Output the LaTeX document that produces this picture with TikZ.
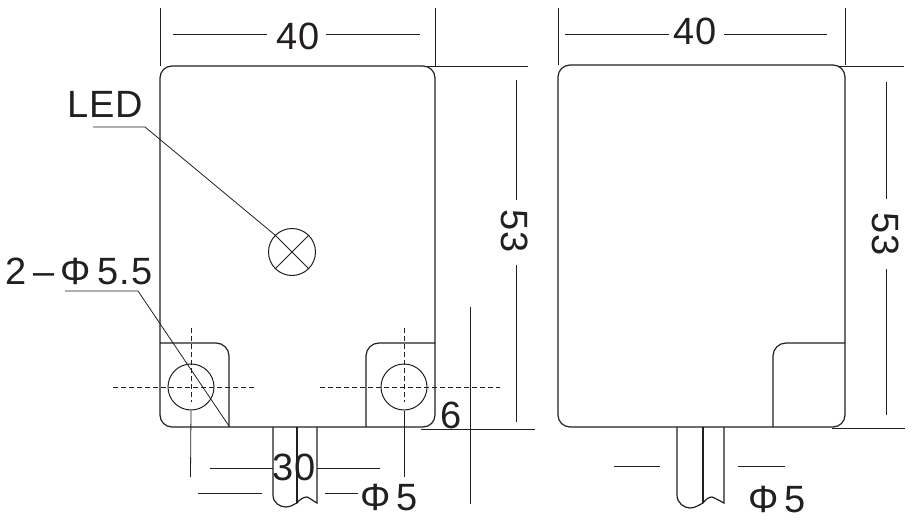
\documentclass[tikz,border=0pt]{standalone}
\usepackage{fontspec}
\setmainfont{Liberation Sans}[LetterSpace=2.5]
\usetikzlibrary{positioning}
\definecolor{inkblack}{RGB}{35,31,32}
\tikzset{
  outline/.style={draw=inkblack, line width=1.2pt},
  thinline/.style={draw=inkblack, line width=0.8pt},
  centerline/.style={draw=inkblack, line width=0.7pt, dash pattern=on 5pt off 3pt},
  dimtext/.style={inner sep=0pt, text=inkblack, font=\fontsize{38}{38}\selectfont},
  holemark/.style={circle, draw=inkblack, line width=1pt, minimum size=46pt, inner sep=0pt},
  ledmark/.style={circle, draw=inkblack, line width=1pt, minimum size=47pt, inner sep=0pt}
}
\begin{document}
\begin{tikzpicture}[x=1pt, y=-1pt]
  \useasboundingbox (0,0) rectangle (916,524);
  % left view
  \draw[outline, rounded corners=12pt] (160,66) rectangle (435,427);
  \draw[outline, rounded corners=13pt] (160,343) -- (229,343) -- (229,427);
  \draw[outline, rounded corners=13pt] (435,343) -- (366,343) -- (366,427);
  \node[holemark] (holeleft) at (191,387) {};
  \node[holemark] (holeright) at (404,387) {};
  \node[ledmark] (led) at (292,252) {};
  \draw[thinline] (led.45) -- (led.225);
  \draw[thinline] (led.135) -- (led.315);
  % centre lines
  \draw[centerline] (113,387) -- (256,387);
  \draw[centerline] (320,387) -- (500,387);
  \draw[centerline] (191,328) -- (191,402);
  \draw[centerline] (404,328) -- (404,402);
  % leaders
  \node[dimtext] (ledtext) at (105,104) {LED};
  \coordinate (ledstart) at (93,127);
  \coordinate (ledknee) at (145,127);
  \draw[thinline] (ledstart) -- (ledknee) -- (led.135);
  \node[dimtext] (holetext) at (79,271) {2\,–\,Φ\,5.5};
  \coordinate (holestart) at (65,291);
  \coordinate (holeknee) at (138,291);
  \coordinate (holeend) at (229,426);
  \draw[thinline] (holestart) -- (holeknee) -- (holeend);
  % left dimensions
  \coordinate (exta) at (160,8);
  \coordinate (extb) at (435,8);
  \draw[thinline] (exta) -- (160,66);
  \draw[thinline] (extb) -- (435,66);
  \node[dimtext] (widthleft) at (298,36.5) {40};
  \draw[thinline] (173,34) -- (267,34);
  \draw[thinline] (326,34) -- (420,34);
  \draw[thinline] (424,66) -- (528,66);
  \draw[thinline] (421,429) -- (535,429);
  \node[dimtext, rotate=-90] (heightleft) at (515,231) {53};
  \draw[thinline] (516,80) -- (516,200);
  \draw[thinline] (516,265) -- (516,422);
  \draw[thinline] (470,307) -- (470,504);
  \node[dimtext] (gapleft) at (451,415) {6};
  \draw[thinline] (holeleft.south) -- (190.5,477);
  \draw[thinline] (holeright.south) -- (404,477);
  \node[dimtext] (pitch) at (294,467) {30};
  \draw[thinline] (210,468) -- (273,468);
  \draw[thinline] (317,468) -- (380,468);
  % left cable
  \draw[outline] (273,427) -- (273,495) .. controls (273,503) and (280,507) .. (286,507) .. controls (291,507) and (294,504) .. (297,503) .. controls (300,499) and (304,497) .. (307,497) .. controls (310,498) and (313,501) .. (317,503) -- (317,427);
  \draw[outline] (297,427) -- (297,503);
  \draw[thinline] (198,493) -- (262,493);
  \draw[thinline] (325,493) -- (358,493);
  \node[dimtext] (cableleft) at (389,498) {Φ\,5};
  % right view
  \draw[outline, rounded corners=12pt] (558,65) rectangle (845,427);
  \draw[outline, rounded corners=13pt] (845,343) -- (773,343) -- (773,427);
  \draw[thinline] (558,8) -- (558,65);
  \draw[thinline] (845,8) -- (845,65);
  \node[dimtext] (widthright) at (695,31.5) {40};
  \draw[thinline] (565,34) -- (669,34);
  \draw[thinline] (724,34) -- (827,34);
  \draw[thinline] (838,66) -- (904,66);
  \draw[thinline] (832,428) -- (905,428);
  \node[dimtext, rotate=-90] (heightright) at (886,234) {53};
  \draw[thinline] (886,82) -- (886,199);
  \draw[thinline] (886,269) -- (886,415);
  % right cable
  \draw[outline] (677,427) -- (677,495) .. controls (677,503) and (684,508) .. (690,508) .. controls (695,508) and (699,505) .. (703,503) .. controls (706,499) and (709,497) .. (712,497) .. controls (715,498) and (720,501) .. (724,503) -- (724,427);
  \draw[outline] (703,427) -- (703,503);
  \draw[thinline] (614,466) -- (660,466);
  \draw[thinline] (738,466) -- (785,466);
  \node[dimtext] (cableright) at (777,499.5) {Φ\,5};
\end{tikzpicture}
\end{document}
